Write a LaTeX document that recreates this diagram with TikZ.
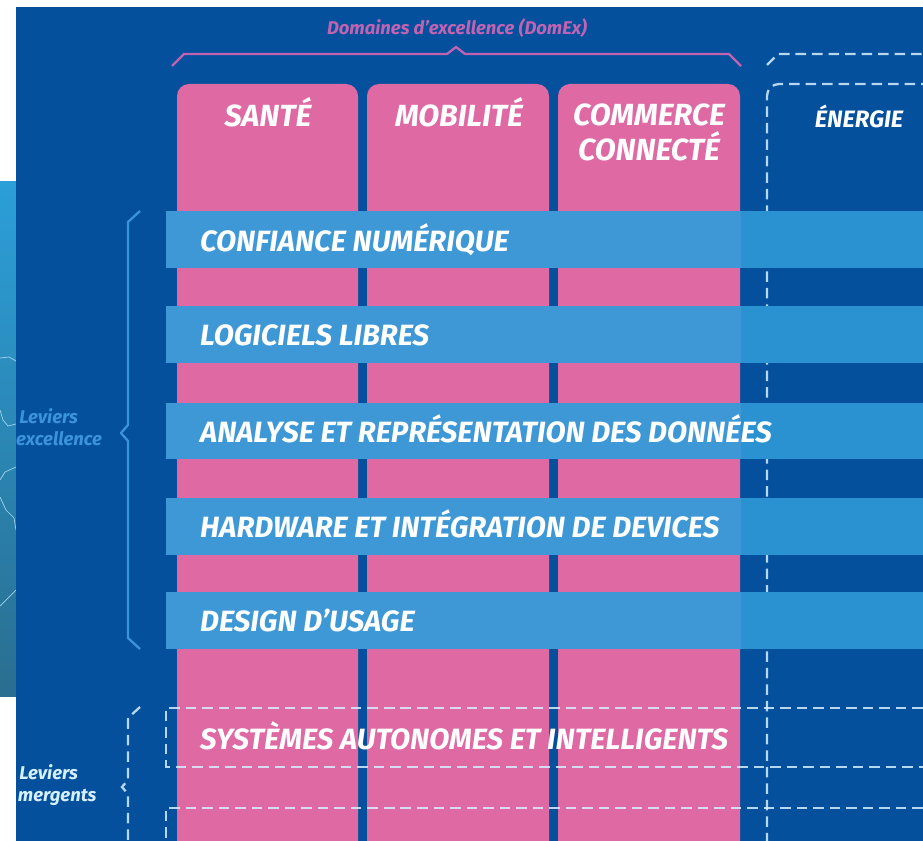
\documentclass[tikz,border=0pt]{standalone}
\usepackage{fontspec}
\setmainfont{Fira Sans}
\usetikzlibrary{positioning}
\definecolor{fondbleu}{HTML}{04509D}
\definecolor{rose}{HTML}{DE69A3}
\definecolor{bande}{HTML}{3F98D6}
\definecolor{bandeb}{HTML}{2B92D1}
\definecolor{levier}{HTML}{3B93DB}
\definecolor{clair}{HTML}{D5F0FF}
\definecolor{titrerose}{HTML}{C263B2}
\definecolor{imghaut}{HTML}{2B9FD8}
\definecolor{imgbas}{HTML}{2A6E90}
\tikzset{
  colonne/.style={fill=rose, rounded corners=12*0.02cm},
  titre/.style={text=white, font=\bfseries\itshape\fontsize{17.4}{20.2}\selectfont, align=center},
  axe/.style={text=white, font=\bfseries\itshape\fontsize{16.7}{20}\selectfont, anchor=west, text height=12pt, text depth=0pt},
  petit/.style={font=\bfseries\itshape\fontsize{10.5}{12.5}\selectfont, align=left, anchor=west},
  pointille/.style={draw=clair, opacity=.85, line width=1.3pt, dash pattern=on 6pt off 3.4pt},
  accolade/.style={line width=1.3pt, line join=round},
  carte/.style={imghaut!45!white, line width=.4pt}
}

\begin{document}
\begin{tikzpicture}[x=0.02cm,y=-0.02cm]
    \useasboundingbox (0,0) rectangle (923,841);
    \fill[white] (0,0) rectangle (923,841);
    % image derriere
    \shade[top color=imghaut, bottom color=imgbas] (0,182) rectangle (16,696);
    \draw[carte] (0,358) -- (9,357) -- (16,361);
    \draw[carte] (0,410) -- (3,420) -- (8,426) -- (16,424);
    \draw[carte] (16,467) -- (5,472) -- (0,480);
    \draw[carte] (0,497) -- (6,510) -- (14,518) -- (16,530);
    \draw[carte] (16,590) -- (6,600) -- (0,606);
    \fill[fondbleu] (16,7) rectangle (923,841);

    % domaines
    \fill[colonne] (177,860) -- (177,84) -- (358,84) -- (358,860) -- cycle;
    \fill[colonne] (367,860) -- (367,84) -- (549,84) -- (549,860) -- cycle;
    \fill[colonne] (558,860) -- (558,84) -- (740,84) -- (740,860) -- cycle;
    \node[titre] (sante) at (268,112) {SANTÉ};
    \node[titre] (mobilite) at (459,112) {MOBILITÉ};
    \node[titre] (commerce) at (649,132.5) {COMMERCE\\CONNECTÉ};
    \node[titre, font=\bfseries\itshape\fontsize{13.5}{16}\selectfont] (energie) at (859,116) {ÉNERGIE};
    \draw[pointille, rounded corners=12*0.02cm] (767,860) -- (767,84) -- (960,84);

    % leviers d'excellence
    \foreach \haut/\bas in {211/268,306/363,403/459,498/555,592/649} {
      \fill[bande] (166,\haut) rectangle (741,\bas);
      \fill[bandeb] (741,\haut) rectangle (923,\bas);
    }
    \node[axe] (confiance) at (194,241) {CONFIANCE NUMÉRIQUE};
    \node[axe] (logiciels) at (194,335) {LOGICIELS LIBRES};
    \node[axe] (analyse) at (194,432) {ANALYSE ET REPRÉSENTATION DES DONNÉES};
    \node[axe] (hardware) at (194,527) {HARDWARE ET INTÉGRATION DE DEVICES};
    \node[axe] (design) at (194,621) {DESIGN D’USAGE};

    % leviers emergents
    \draw[pointille] (923,708) -- (166,708) -- (166,767) -- (923,767);
    \draw[pointille] (923,808) -- (166,808) -- (166,860);
    \node[axe] (systemes) at (194,739) {SYSTÈMES AUTONOMES ET INTELLIGENTS};

    % accolades
    \node[petit, text=titrerose, anchor=center] (domex) at (457,28) {Domaines d’excellence (DomEx)};
    \draw[accolade, titrerose] (172,66) -- (184,54) -- (447,54) -- (456,47) -- (465,54) -- (729,54) -- (741,66);
    \draw[pointille] (767,65) -- (778,54) -- (923,54);
    \draw[accolade, levier] (140,211) -- (128,222) -- (128,425) -- (121,433) -- (128,441) -- (128,638) -- (140,649);
    \node[petit, text=levier] (excellence) at (10,427) {\,Leviers\\excellence};
    \draw[pointille] (140,707) -- (128,718) -- (128,780) -- (122,787) -- (128,794) -- (128,860);
    \node[petit, text=clair] (emergents) at (10,785) {\,Leviers\\\hspace*{1pt}mergents};
  \end{tikzpicture}
\end{document}
